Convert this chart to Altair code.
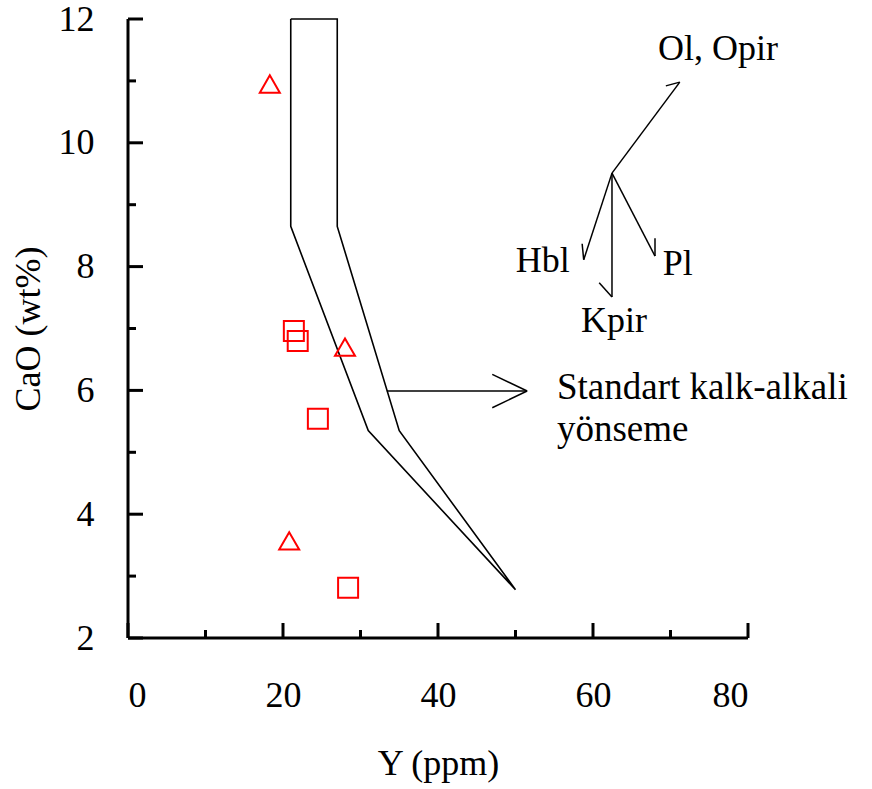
import altair as alt
import pandas as pd

# Sample points: Y (ppm) vs CaO (wt%)
tri_y = [18.3, 28.0, 20.8]
tri_cao = [10.95, 6.70, 3.57]
sq_y = [21.4, 21.9, 24.5, 28.4]
sq_cao = [6.96, 6.80, 5.54, 2.81]

# Standard calc-alkaline trend band (closed outline)
band_y = [21.0, 21.0, 31.0, 50.0, 35.0, 27.0, 27.0, 21.0]
band_cao = [12.0, 8.65, 5.35, 2.78, 5.35, 8.65, 12.0, 12.0]

# Arrow segments: start (x, y) -> end (x2, y2)
seg_x = [33.4, 51.5, 51.5, 62.45, 71.2, 62.45, 58.8, 62.45, 62.45, 62.45, 68.0]
seg_y = [5.99, 5.99, 5.99, 9.51, 10.98, 9.51, 8.11, 9.51, 7.51, 9.51, 8.17]
seg_x2 = [51.5, 47.0, 47.0, 71.2, 69.4, 58.8, 58.6, 62.45, 60.8, 68.0, 68.0]
seg_y2 = [5.99, 6.26, 5.72, 10.98, 10.92, 8.11, 8.37, 7.51, 7.74, 8.17, 8.46]

# Annotation labels (positions are text baselines)
lab_text = ["Ol, Opir", "Hbl", "Pl", "Kpir", "Standart kalk-alkali", "yönseme"]
lab_x = [68.4, 57.0, 69.0, 62.7, 55.35, 55.35]
lab_y = [11.34, 7.91, 7.86, 6.94, 5.86, 5.18]
lab_align = ["left", "right", "left", "center", "left", "left"]
lab_size = [36, 36, 36, 36, 37, 37]

# Axis ticks
x_major = [0, 20, 40, 60, 80]
x_minor = [10, 30, 50, 70]
y_major = [2, 4, 6, 8, 10, 12]
y_minor = [3, 5, 7, 9, 11]

FONT = "Liberation Serif"
FS = 36
W, H = 620, 619

xs = alt.Scale(domain=[0, 80], nice=False, zero=False)
ys = alt.Scale(domain=[2, 12], nice=False, zero=False)

pts = pd.DataFrame(
    {"Y": tri_y + sq_y, "CaO": tri_cao + sq_cao,
     "kind": ["tri"] * len(tri_y) + ["sq"] * len(sq_y)}
)
band = pd.DataFrame({"Y": band_y, "CaO": band_cao, "i": list(range(len(band_y)))})
segs = pd.DataFrame({"x": seg_x, "y": seg_y, "x2": seg_x2, "y2": seg_y2})
labs = pd.DataFrame({"t": lab_text, "x": lab_x, "y": lab_y, "a": lab_align, "s": lab_size})

# Axes carry only labels and titles; domain lines and inward ticks are drawn as rules
base_axes = alt.Chart(pd.DataFrame({"Y": [0, 80], "CaO": [2, 12]})).mark_point(opacity=0).encode(
    x=alt.X("Y:Q", scale=xs, title="Y (ppm)",
            axis=alt.Axis(values=x_major, format="d", ticks=False, domain=False, grid=False,
                          labelPadding=40, titlePadding=33)),
    y=alt.Y("CaO:Q", scale=ys, title="CaO (wt%)",
            axis=alt.Axis(values=y_major, format="d", ticks=False, domain=False, grid=False,
                          labelPadding=34, titlePadding=11)),
)

x_dom = alt.Chart(pd.DataFrame({"a": [0], "b": [80], "c": [2]})).mark_rule(
    color="black", strokeWidth=3).encode(
    x=alt.X("a:Q", scale=xs), x2="b:Q", y=alt.Y("c:Q", scale=ys))
y_dom = alt.Chart(pd.DataFrame({"a": [2], "b": [12], "c": [0]})).mark_rule(
    color="black", strokeWidth=3).encode(
    y=alt.Y("a:Q", scale=ys), y2="b:Q", x=alt.X("c:Q", scale=xs))

def xticks(vals, length):
    return alt.Chart(pd.DataFrame({"v": vals})).mark_rule(color="black", strokeWidth=3).encode(
        x=alt.X("v:Q", scale=xs), y=alt.value(H), y2=alt.value(H - length))

def yticks(vals, length):
    return alt.Chart(pd.DataFrame({"v": vals})).mark_rule(color="black", strokeWidth=3).encode(
        y=alt.Y("v:Q", scale=ys), x=alt.value(0), x2=alt.value(length))

band_line = alt.Chart(band).mark_line(color="black", strokeWidth=1.6).encode(
    x=alt.X("Y:Q", scale=xs), y=alt.Y("CaO:Q", scale=ys), order="i:Q")

seg_rules = alt.Chart(segs).mark_rule(color="black", strokeWidth=1.5).encode(
    x=alt.X("x:Q", scale=xs), y=alt.Y("y:Q", scale=ys), x2="x2:Q", y2="y2:Q")

points = alt.Chart(pts).mark_point(filled=False, color="#ff0000", strokeWidth=2, size=400, opacity=1).encode(
    x=alt.X("Y:Q", scale=xs), y=alt.Y("CaO:Q", scale=ys),
    shape=alt.Shape("kind:N", scale=alt.Scale(domain=["tri", "sq"], range=["triangle-up", "square"]),
                    legend=None))

def text_layer(align):
    d = labs[labs["a"] == align]
    return alt.Chart(d).mark_text(font=FONT, align=align, baseline="alphabetic",
                                  color="black").encode(
        x=alt.X("x:Q", scale=xs), y=alt.Y("y:Q", scale=ys), text="t:N",
        size=alt.Size("s:Q", scale=None, legend=None))

chart = alt.layer(
    base_axes, band_line, seg_rules, points,
    text_layer("left"), text_layer("right"), text_layer("center"),
    x_dom, y_dom,
    xticks(x_major, 15), xticks(x_minor, 8), yticks(y_major, 15), yticks(y_minor, 8),
).properties(
    width=W, height=H,
    autosize=alt.AutoSizeParams(type="none"),
    padding={"left": 128, "top": 19, "right": 124, "bottom": 151},
).configure_view(stroke=None).configure_axis(
    labelFont=FONT, titleFont=FONT, labelFontSize=FS, titleFontSize=FS,
    labelColor="black", titleColor="black", titleFontWeight="normal",
)

chart.save("out.html", embed_options={"renderer": "svg", "actions": False})
